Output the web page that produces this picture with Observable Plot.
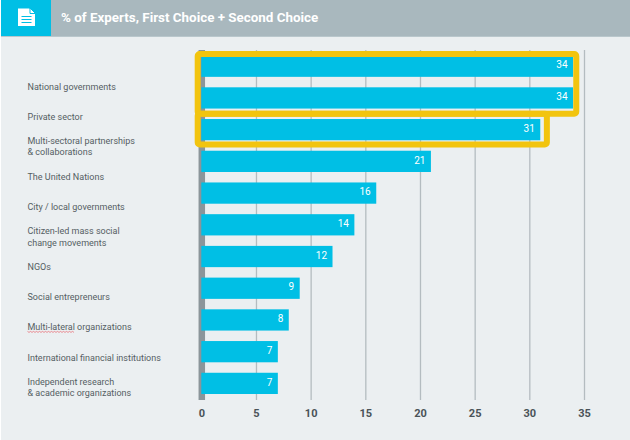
<!DOCTYPE html>
<html><head><meta charset="utf-8">
<script src="https://cdn.jsdelivr.net/npm/d3@7"></script>
<script src="https://cdn.jsdelivr.net/npm/@observablehq/plot@0.6"></script>
<style>
html,body{margin:0;padding:0;background:#fff;overflow:hidden}
#page{position:absolute;left:1px;top:0;width:629px;height:440px;background:#ebeff1;overflow:hidden}
#head{position:absolute;left:0;top:0;width:629px;height:36px;background:#a9b8be;border-bottom:1px solid #b9c7cc;}
#icon{position:absolute;left:0;top:0;width:50px;height:36px;background:#00bfe5}
#title{position:absolute;left:60px;top:0;font:700 13.4px/36px Roboto,sans-serif;color:#fff}
#chart{position:absolute;left:-1px;top:0}
svg text{font-family:Roboto,sans-serif}
</style></head><body>
<div id="page">
<div id="chart"></div>
<div id="head"><div id="icon"><svg width="50" height="36" viewBox="0 0 50 36">
<path d="M17 8.500h11.500l5.500 5.500v12h-17z" fill="#fff"/><path d="M29 8l5.500 5.500h-5.500z" fill="#fff" stroke="#00bfe5" stroke-width="1"/>
<path d="M20.500 16.500h10M20.500 19.500h10M20.500 22.500h10" stroke="#00bfe5" stroke-width="1.200"/></svg></div>
<div id="title">% of Experts, First Choice + Second Choice</div></div>
</div>
<script>
const categories = ["National governments","Private sector","Multi-sectoral partnerships\n& collaborations","The United Nations","City / local governments","Citizen-led mass social\nchange movements","NGOs","Social entrepreneurs","Multi-lateral organizations","International financial institutions","Independent research\n& academic organizations"];
const values = [34,34,31,21,16,14,12,9,8,7,7];
const xTicks = [0,5,10,15,20,25,30,35];
const gridValues = [5,10,15,20,25,30,35];
const table = categories.map((c,i)=>({category:c,value:values[i]}));
const ink = "#555e63";

const yRange = [50.200,399.400], padI = .33, padO = .17;
const band = d3.scaleBand(categories,yRange).paddingInner(padI).paddingOuter(padO);
const rowPos = d3.scalePoint(categories,[85.500,386.500]);
const step = band.step(), bw = band.bandwidth();

const highlight = (cat,value,rows,top,right,bottom) => Plot.barX([{category:cat,value}],{
  x:"value",y:"category",fill:"none",stroke:"#f2c40f",strokeWidth:6,rx:2,
  insetTop:-top,insetLeft:-3.600,insetRight:-right,insetBottom:-bottom-(rows-1)*step
});

const plot = Plot.plot({
  width:630,height:440,margin:0,
  style:{background:"transparent"},
  x:{domain:[0,35],range:[201.300,584],axis:null},
  y:{type:"band",domain:categories,range:yRange,paddingInner:padI,paddingOuter:padO,round:false,axis:null},
  marks:[
    Plot.ruleX(gridValues,{x:d=>d,insetTop:50,insetBottom:40,stroke:"#b4bcc0",strokeWidth:1.300}),
    Plot.ruleX([0],{insetTop:50,insetBottom:40,stroke:"#8b959a",strokeWidth:6.500}),
    Plot.barX(table,{x:"value",y:"category",fill:"#00bfe5"}),
    Plot.text(table,{x:"value",y:"category",text:d=>String(d.value),textAnchor:"end",dx:-6,dy:-1.500,fill:"#fff",fontSize:10}),
    highlight(categories[0],34,2,1.600,3.200,5.100),
    highlight(categories[2],31,1,5.400,6.600,4.100),
    ...categories.map(c=>Plot.text([c],{
      y:d=>d,text:d=>d,frameAnchor:"left",textAnchor:"start",dx:27,
      dy:rowPos(c)-band(c)-bw/2,fill:ink,fontSize:9,lineHeight:1.250
    })),
    Plot.text(xTicks,{x:d=>d,frameAnchor:"bottom",dy:-24,text:d=>String(d),fill:"#4a5358",fontSize:11,fontWeight:700})
  ]
});
document.getElementById("chart").appendChild(plot);
// spell-check squiggle under "Multi-lateral"
const label = [...plot.querySelectorAll("text")].find(t=>t.textContent.startsWith("Multi-lateral"));
if(label){
  const txt = label.textContent; label.textContent="";
  const ns="http://www.w3.org/2000/svg";
  const a=document.createElementNS(ns,"tspan");a.textContent="Multi-lateral";
  const b=document.createElementNS(ns,"tspan");b.textContent=txt.slice(13);
  label.append(a,b);
  const r=a.getBBox(), m=label.getCTM?label.getCTM():null;
  const x0=r.x+(m?m.e:0), y0=r.y+r.height+(m?m.f:0)-1;
  let d=`M${x0} ${y0}`;
  for(let x=x0+1.500,k=1;x<x0+r.width;x+=1.500,k++) d+=`L${x} ${y0+(k%2?1:0)}`;
  const p=document.createElementNS(ns,"path");
  p.setAttribute("d",d);p.setAttribute("fill","none");p.setAttribute("stroke","#e8606a");p.setAttribute("stroke-width",.7);
  plot.appendChild(p);
}
</script></body></html>
